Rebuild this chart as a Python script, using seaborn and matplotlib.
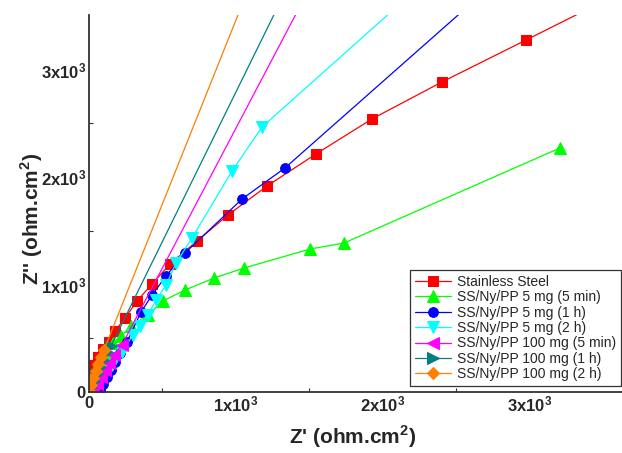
import matplotlib
matplotlib.use("Agg")
import matplotlib.pyplot as plt
import pandas as pd
import seaborn as sns

# Nyquist data (Z' and Z'' in ohm.cm2)
ss_x = [7, 14, 20, 34, 61, 95, 136, 177, 245, 327, 429, 551, 735, 946, 1211, 1544, 1925, 2401, 2973, 3544]
ss_y = [47, 112, 186, 251, 326, 400, 465, 567, 688, 847, 1005, 1191, 1405, 1647, 1916, 2214, 2540, 2884, 3274, 3665]

g5m_x = [20, 41, 68, 109, 163, 218, 286, 401, 503, 653, 850, 1054, 1503, 1735, 3204]
g5m_y = [112, 205, 298, 372, 456, 521, 614, 716, 847, 949, 1060, 1153, 1330, 1386, 2270]

b1h_x = [75, 95, 122, 150, 177, 211, 258, 354, 429, 524, 653, 1041, 1333, 2796]
b1h_y = [19, 74, 140, 205, 279, 363, 465, 744, 902, 1079, 1293, 1795, 2084, 3851]

c2h_x = [61, 102, 156, 224, 299, 347, 401, 456, 524, 592, 701, 973, 1177, 2252]
c2h_y = [74, 158, 251, 372, 530, 614, 716, 856, 995, 1200, 1433, 2056, 2465, 3777]

m5m_x = [27, 54, 82, 109, 136, 170, 225, 1530]
m5m_y = [19, 74, 140, 205, 270, 344, 440, 3833]

t1h_x = [14, 34, 54, 75, 95, 122, 150, 1381]
t1h_y = [47, 102, 167, 233, 298, 372, 428, 3851]

o2h_x = [0, 14, 27, 48, 61, 82, 102, 1095]
o2h_y = [9, 65, 130, 195, 260, 326, 391, 3786]

labels = ["Stainless Steel", "SS/Ny/PP 5 mg (5 min)", "SS/Ny/PP 5 mg (1 h)",
          "SS/Ny/PP 5 mg (2 h)", "SS/Ny/PP 100 mg (5 min)", "SS/Ny/PP 100 mg (1 h)",
          "SS/Ny/PP 100 mg (2 h)"]
series = [(ss_x, ss_y), (g5m_x, g5m_y), (b1h_x, b1h_y), (c2h_x, c2h_y),
          (m5m_x, m5m_y), (t1h_x, t1h_y), (o2h_x, o2h_y)]
colors = ["#ff0000", "#00ff00", "#0000ff", "#00ffff", "#ff00ff", "#008080", "#ff8000"]
markers = ["s", "^", "o", "v", "<", ">", "D"]
msizes = [6.5, 8, 7, 8, 8, 8, 6.5]

sns.set_style("white")
plt.rcParams["font.family"] = ["Liberation Sans", "DejaVu Sans"]
plt.rcParams["mathtext.fontset"] = "custom"
plt.rcParams["mathtext.rm"] = "Liberation Sans"
plt.rcParams["mathtext.bf"] = "Liberation Sans:bold"

fig = plt.figure(figsize=(6.22, 4.53), dpi=100)
ax = fig.add_axes([89 / 622, 61 / 453, 533 / 622, 377 / 453])

for (xs, ys), lab, col, mk, ms in zip(series, labels, colors, markers, msizes):
    df = pd.DataFrame({"x": xs, "y": ys})
    sns.lineplot(data=df, x="x", y="y", sort=False, estimator=None, ax=ax,
                 color=col, marker=mk, markersize=ms, markeredgecolor=col,
                 linewidth=0.9, label=lab)

ax.set_xlim(0, 3626)
ax.set_ylim(0, 3507)

# labels at the thousands, small inward ticks at the half thousands
tick_labels = [r"$\mathbf{0}$", r"$\mathbf{1x10^{3}}$", r"$\mathbf{2x10^{3}}$", r"$\mathbf{3x10^{3}}$"]
ax.set_xticks([0, 1000, 2000, 3000])
ax.set_xticklabels(tick_labels)
ax.set_yticks([0, 1000, 2000, 3000])
ax.set_yticklabels(tick_labels)
ax.set_xticks([500, 1500, 2500], minor=True)
ax.set_yticks([500, 1500, 2500], minor=True)
ax.tick_params(which="major", length=0, labelsize=12, pad=2)
ax.tick_params(which="minor", direction="in", length=3, width=0.8, color="#333333",
               bottom=True, left=True)

for s in ["top", "right"]:
    ax.spines[s].set_visible(False)
for s in ["left", "bottom"]:
    ax.spines[s].set_color("#333333")
    ax.spines[s].set_linewidth(1.3)

ax.set_xlabel(r"Z' (ohm.cm$^{\mathbf{2}}$)", fontsize=15, fontweight="bold")
ax.set_ylabel(r"Z'' (ohm.cm$^{\mathbf{2}}$)", fontsize=15, fontweight="bold")
ax.xaxis.set_label_coords(0.495, -0.082)
ax.yaxis.set_label_coords(-0.082, 0.46)

leg = ax.legend(loc="lower right", bbox_to_anchor=(621 / 622, 67 / 453),
                bbox_transform=fig.transFigure, fontsize=10, frameon=True,
                fancybox=False, borderaxespad=0, handlelength=2.6,
                labelspacing=0.1, borderpad=0.35, handletextpad=0.4)
leg.get_frame().set_edgecolor("black")
leg.get_frame().set_linewidth(0.9)

fig.savefig("out.png", dpi=100)
